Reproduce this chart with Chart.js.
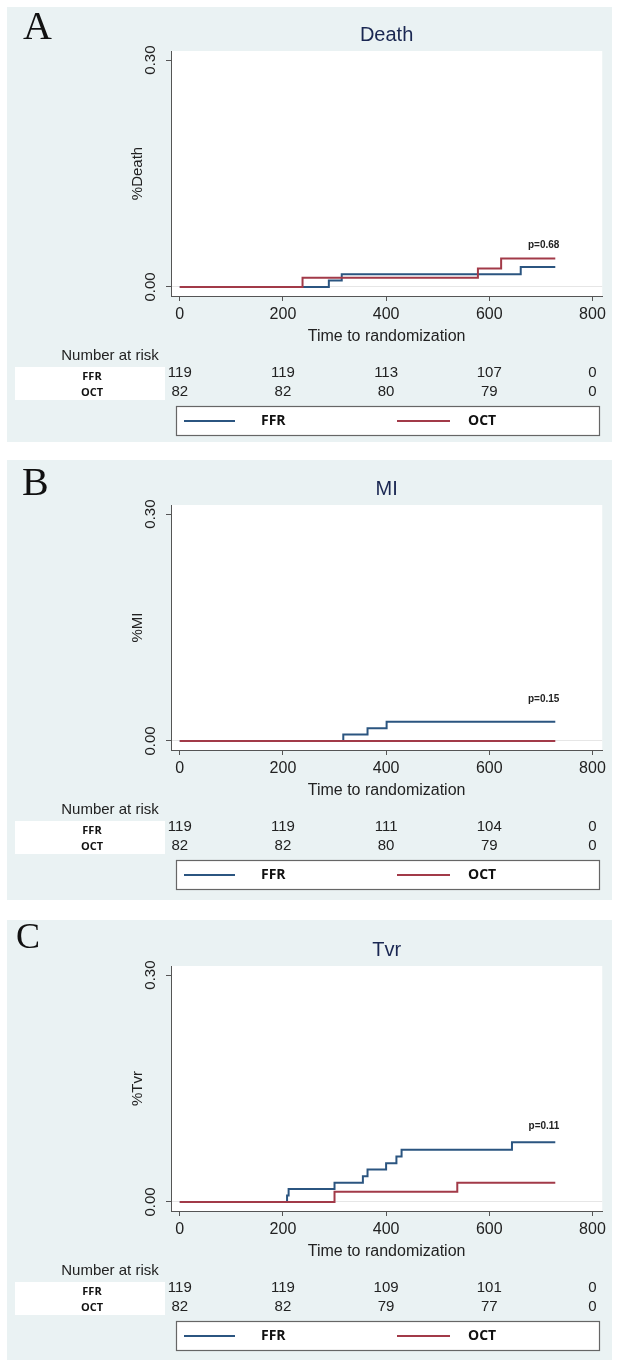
<!DOCTYPE html>
<html lang="en">
<head>
<meta charset="UTF-8">
<title>Death, MI and Tvr - FFR vs OCT</title>
<style>
  html, body { margin: 0; padding: 0; background: #fff; }
  .page { position: relative; width: 619px; height: 1369px; }
  .page canvas { position: absolute; left: 7px; }
</style>
</head>
<body>
<div class="page">
  <canvas id="panelA" width="605" height="435" style="top:7px"></canvas>
  <canvas id="panelB" width="605" height="440" style="top:460px"></canvas>
  <canvas id="panelC" width="605" height="440" style="top:920px"></canvas>
</div>

<script src="https://cdn.jsdelivr.net/npm/chart.js"></script>
<script>
// ---- data ----
const groups = ['FFR', 'OCT'];
const xTicks = [0, 200, 400, 600, 800];
const yTicks = [0, 0.30];
const riskTimes = [0, 200, 400, 600, 800];
const letters = ['A', 'B', 'C'];
const outcomes = ['Death', 'MI', 'Tvr'];
const pTexts = ['p=0.68', 'p=0.15', 'p=0.11'];
const pAtDay = [736, 736, 736];
const pAtRate = [0.055, 0.055, 0.10];

// Death
const deathFfrDays = [0, 289, 314, 661, 728];
const deathFfrRate = [0, 0.0084, 0.0168, 0.0265, 0.0265];
const deathOctDays = [0, 238, 578, 623, 728];
const deathOctRate = [0, 0.0122, 0.0244, 0.0375, 0.0375];
const deathRiskFfr = [119, 119, 113, 107, 0];
const deathRiskOct = [82, 82, 80, 79, 0];

// MI
const miFfrDays = [0, 317, 364, 401, 728];
const miFfrRate = [0, 0.0084, 0.0168, 0.0255, 0.0255];
const miOctDays = [0, 728];
const miOctRate = [0, 0];
const miRiskFfr = [119, 119, 111, 104, 0];
const miRiskOct = [82, 82, 80, 79, 0];

// Tvr
const tvrFfrDays = [0, 208, 211, 300, 355, 364, 400, 420, 430, 644, 728];
const tvrFfrRate = [0, 0.0084, 0.0172, 0.0255, 0.034, 0.043, 0.051, 0.060, 0.069, 0.079, 0.079];
const tvrOctDays = [0, 300, 538, 728];
const tvrOctRate = [0, 0.0133, 0.0254, 0.0254];
const tvrRiskFfr = [119, 119, 109, 101, 0];
const tvrRiskOct = [82, 82, 79, 77, 0];

// ---- look ----
const ffrColor = '#2b5580';
const octColor = '#a23a48';
const panelBg = '#eaf2f3';
const axisColor = '#555';
const sans = '"Liberation Sans", Arial, sans-serif';
Chart.defaults.font.family = sans;

// layout per panel (shift = canvas y minus panel-A page y)
const panelIds = ['panelA', 'panelB', 'panelC'];
const shifts = [-7, -6, -5];
const letterPos = [[16, 32, 40], [15, 35, 40], [9, 28, 36]];

const toPoints = (days, rate) => days.map((d, i) => ({ x: d, y: rate[i] }));

const panelDecor = {
  id: 'panelDecor',
  beforeDraw(chart) {
    const { ctx, chartArea: a, width, height } = chart;
    ctx.save();
    ctx.fillStyle = panelBg;
    ctx.fillRect(0, 0, width, height);
    ctx.fillStyle = '#fff';
    ctx.fillRect(a.left, a.top, a.right - a.left, a.bottom - a.top);
    ctx.restore();
  },
  afterDraw(chart, args, o) {
    const { ctx } = chart;
    const xs = chart.scales.x, ys = chart.scales.y;
    const s = o.shift;
    ctx.save();

    // panel letter
    ctx.fillStyle = '#111';
    ctx.font = o.letterSize + 'px "Liberation Serif", "Times New Roman", serif';
    ctx.textAlign = 'left';
    ctx.textBaseline = 'alphabetic';
    ctx.fillText(o.letter, o.letterX, o.letterY);

    // y tick labels, rotated
    ctx.font = '15px ' + sans;
    ctx.fillStyle = '#222';
    ctx.textAlign = 'center';
    ctx.textBaseline = 'middle';
    ys.ticks.forEach(t => {
      ctx.save();
      ctx.translate(144, ys.getPixelForValue(t.value));
      ctx.rotate(-Math.PI / 2);
      ctx.fillText(t.value.toFixed(2), 0, 0);
      ctx.restore();
    });

    // p value
    ctx.font = 'bold 10px ' + sans;
    ctx.textAlign = 'right';
    ctx.fillText(o.pText, xs.getPixelForValue(o.pDay), ys.getPixelForValue(o.pRate));

    // number at risk table
    ctx.textAlign = 'center';
    ctx.font = '15px ' + sans;
    ctx.fillText('Number at risk', 103, 356 + s);
    ctx.fillStyle = '#fff';
    ctx.fillRect(8, 367 + s, 150, 33);
    const rowY = [373 + s, 392 + s];
    const labelY = [377 + s, 393 + s];
    o.risk.forEach((row, r) => {
      ctx.fillStyle = '#111';
      ctx.font = 'bold 11px "Open Sans", ' + sans;
      ctx.fillText(groups[r], 85, labelY[r]);
      ctx.font = '15px ' + sans;
      ctx.fillStyle = '#222';
      row.forEach((n, i) => ctx.fillText(String(n), xs.getPixelForValue(riskTimes[i]), rowY[r]));
    });

    // legend
    const ly = 421 + s;
    ctx.fillStyle = '#fff';
    ctx.fillRect(169, 406 + s, 423, 29);
    ctx.strokeStyle = '#666';
    ctx.lineWidth = 1.2;
    ctx.strokeRect(169.5, 406.5 + s, 423, 29);
    const items = [[177, 228, 254], [390, 443, 461]];
    chart.data.datasets.forEach((ds, i) => {
      const [x1, x2, tx] = items[i];
      ctx.strokeStyle = ds.borderColor;
      ctx.lineWidth = 2;
      ctx.beginPath();
      ctx.moveTo(x1, ly);
      ctx.lineTo(x2, ly);
      ctx.stroke();
      ctx.fillStyle = '#111';
      ctx.font = 'bold 14px "Open Sans", ' + sans;
      ctx.textAlign = 'left';
      ctx.fillText(ds.label, tx, ly);
    });
    ctx.restore();
  }
};

function makePanel(i, ffr, oct, risk) {
  const canvas = document.getElementById(panelIds[i]);
  const s = shifts[i];
  return new Chart(canvas, {
    type: 'line',
    data: {
      datasets: [
        { label: groups[0], data: ffr, borderColor: ffrColor, order: 1 },
        { label: groups[1], data: oct, borderColor: octColor, order: 0 }
      ]
    },
    options: {
      responsive: false,
      animation: false,
      events: [],
      elements: {
        line: { stepped: true, borderWidth: 2, fill: false },
        point: { radius: 0 }
      },
      layout: {
        autoPadding: false,
        padding: { top: 7 + s, left: 0, right: 8, bottom: canvas.height - (345 + s) }
      },
      plugins: {
        legend: { display: false },
        tooltip: { enabled: false },
        title: {
          display: true,
          text: outcomes[i],
          fullSize: false,
          color: '#1a2752',
          font: { size: 20, weight: 'normal', lineHeight: 1.2 },
          padding: { top: 16, bottom: 4 }
        },
        panelDecor: {
          shift: s,
          letter: letters[i],
          letterX: letterPos[i][0],
          letterY: letterPos[i][1],
          letterSize: letterPos[i][2],
          pText: pTexts[i],
          pDay: pAtDay[i],
          pRate: pAtRate[i],
          risk: risk
        }
      },
      scales: {
        x: {
          type: 'linear',
          min: -17,
          max: 819,
          afterBuildTicks: sc => { sc.ticks = xTicks.map(v => ({ value: v })); },
          ticks: {
            color: '#222',
            font: { size: 16, lineHeight: 1 },
            padding: 6,
            autoSkip: false,
            maxRotation: 0,
            callback: v => String(v)
          },
          grid: { drawOnChartArea: false, tickLength: 5, tickColor: axisColor },
          border: { color: axisColor },
          title: {
            display: true,
            text: 'Time to randomization',
            color: '#222',
            font: { size: 16, lineHeight: 1 },
            padding: { top: 0, bottom: 0 }
          }
        },
        y: {
          min: -0.012,
          max: 0.312,
          afterBuildTicks: sc => { sc.ticks = yTicks.map(v => ({ value: v })); },
          afterFit: sc => { sc.width = 164; },
          ticks: { display: false },
          grid: {
            tickLength: 5,
            tickColor: axisColor,
            color: c => (c.tick && c.tick.value === 0 ? '#e6e6e6' : 'rgba(0,0,0,0)')
          },
          border: { color: axisColor },
          title: {
            display: true,
            text: '%' + outcomes[i],
            color: '#222',
            font: { size: 15, lineHeight: 1.2 },
            padding: { top: 122, bottom: 0 }
          }
        }
      }
    },
    plugins: [panelDecor]
  });
}

makePanel(0, toPoints(deathFfrDays, deathFfrRate), toPoints(deathOctDays, deathOctRate), [deathRiskFfr, deathRiskOct]);
makePanel(1, toPoints(miFfrDays, miFfrRate), toPoints(miOctDays, miOctRate), [miRiskFfr, miRiskOct]);
makePanel(2, toPoints(tvrFfrDays, tvrFfrRate), toPoints(tvrOctDays, tvrOctRate), [tvrRiskFfr, tvrRiskOct]);
</script>
</body>
</html>
